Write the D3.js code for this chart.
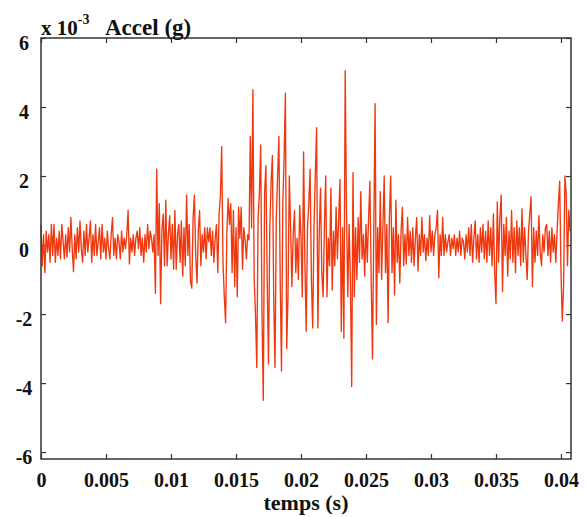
<!DOCTYPE html>
<html>
<head>
<meta charset="utf-8">
<script src="https://cdn.jsdelivr.net/npm/d3@7"></script>
<style>
  body { margin: 0; background: #fff; }
  svg text { font-family: "Liberation Serif", "Times New Roman", serif; font-weight: bold; fill: #111; }
</style>
</head>
<body>
<div id="chart"></div>
<script>
// acceleration samples (x 10^-3 g), one every 0.0001 s
var accel = [
  0.6, -0.6, 0.3, -0.8, 0.4, -0.2, 0.3, -0.5, 0.6, -0.3,
  0.6, -0.5, 0.2, -0.3, 0.4, -0.4, 0.6, 0.1, -0.4, 0.3,
  -0.35, 0.5, -0.2, 0.8, -0.1, -0.77, 0.3, -0.4, 0.5, -0.2,
  0.7, -0.1, -0.5, 0.4, -0.3, 0.6, -0.2, 0.2, 0.7, -0.5,
  0.3, -0.3, 0.6, -0.3, 0.1, 0.5, -0.4, 0.6, -0.2, 0.2,
  -0.4, 0.4, -0.1, -0.4, 0.3, 0.8, -0.3, 0.2, -0.4, 0.3,
  0.1, -0.4, 0.4, -0.2, 0.2, -0.1, 0.3, 1.0, -0.55, 0.2,
  -0.2, 0.3, -0.3, 0.2, 0.4, -0.1, 0.5, -0.3, 0.2, -0.5,
  0.3, -0.2, 0.6, -0.1, 0.4, 0.2, -0.2, 0.3, -1.4, 2.2,
  -0.3, 1.2, -1.7, 0.4, 0.9, -0.6, 1.3, -0.6, 0.3, 0.85,
  -0.4, 0.6, -0.7, 1.0, -0.7, 0.3, 0.6, -0.5, 0.7, -0.9,
  0.5, -0.6, 1.45, -0.3, 0.6, -1.05, -1.25, 0.8, 1.45, -0.3,
  -1.1, 0.4, 1.0, -0.6, 0.3, -0.2, 0.5, -0.4, 0.5, 0.1,
  0.5, -0.3, 0.4, -0.5, 0.2, 0.6, -0.8, 0.9, 1.4, 2.85,
  -0.5, -1.5, -2.25, 0.4, 1.35, 0.6, 1.2, -0.8, 1.0, -1.2,
  0.5, -1.5, 1.1, 0.2, 1.1, -0.7, 0.5, 0.15, -0.4, 0.3,
  0.15, 3.15, 0.5, 4.5, -1.0, -2.0, -3.55, 0.8, 1.5, 2.9,
  -2.0, -4.5, 1.5, 2.3, -1.0, -3.45, 0.5, 1.8, 2.6, -1.5,
  -3.55, 0.8, 2.0, 3.15, -1.0, -3.65, 1.2, 2.5, 4.4, -3.0,
  -1.5, 2.0, 0.5, -1.2, 0.3, 1.0, -0.8, 0.2, -1.0, 1.15,
  0.2, -1.5, 2.7, -0.5, -2.5, 0.5, 1.2, 2.2, -1.0, -2.4,
  0.5, 2.0, 3.4, -2.4, 0.3, 1.65, -0.8, -1.5, 0.5, 2.0,
  -1.5, 0.2, -0.6, 1.65, -1.3, 0.4, -0.6, 1.1, -0.4, 0.8,
  1.9, -2.5, 0.5, -2.7, 5.05, 1.0, -1.5, 0.6, -1.0, -4.1,
  2.1, -1.5, 0.5, -1.0, 0.8, -0.5, 1.55, -0.4, 0.3, -0.9,
  0.6, -0.5, 0.8, 1.85, -1.0, -3.3, 0.4, 4.1, -2.3, 0.5,
  -0.8, 1.55, -1.0, 0.5, 2.0, -0.8, 0.6, -2.25, 0.8, 2.0,
  -0.8, 0.5, -1.45, 1.3, -0.5, 0.3, -1.1, 0.4, 1.1, -0.6,
  0.3, -0.55, 0.8, -0.3, 0.4, -0.5, 0.5, -0.6, 0.2, 0.8,
  -0.75, 0.3, -0.3, 0.8, -0.2, 0.3, -0.45, 0.2, -0.3, 0.85,
  -0.2, 0.4, -0.3, 0.3, 0.5, 1.0, -0.95, 0.3, -0.3, 0.8,
  -0.3, 0.3, -0.2, 0.1, 0.3, -0.3, 0.2, -0.1, 0.3, -0.3,
  0.2, -0.2, 0.4, -0.3, 0.2, 0.1, -0.4, 0.3, -0.2, 0.5,
  -0.3, 0.6, -0.5, 0.2, 0.7, -0.4, 0.3, -0.5, 0.5, -0.2,
  0.6, -0.4, 0.4, -0.5, 0.7, -0.3, 0.5, -0.6, 0.9, -0.8,
  -1.7, 1.25, -0.5, 0.8, 1.45, -1.35, 0.6, -0.3, 0.8, -0.9,
  0.4, -0.4, 1.0, -0.5, 0.5, -0.8, 0.7, -0.3, 0.5, -0.6,
  1.05, -0.5, 0.5, -0.3, -1.0, 0.4, 0.9, 1.4, -1.2, 0.5,
  -0.5, 0.4, -0.3, 0.85, -0.2, -0.6, 0.3, -0.2, 0.5, 0.6,
  -0.3, 0.4, -0.5, 0.5, -0.2, 0.3, -0.5, 0.4, 1.2, 1.85,
  -0.8, -2.2, -1.2, 2.0, 1.5, -0.6, 1.0, 0.4
];
var sampleStep = 0.0001;

var xTicks = [0, 0.005, 0.01, 0.015, 0.02, 0.025, 0.03, 0.035, 0.04];
var xTickLabels = ["0", "0.005", "0.01", "0.015", "0.02", "0.025", "0.03", "0.035", "0.04"];
var yTicks = [-6, -4, -2, 0, 2, 4, 6];
var yTickLabels = ["-6", "-4", "-2", "0", "2", "4", "6"];

// set the dimensions and margins of the graph
var margin = {top: 38, right: 15, bottom: 58, left: 41},
  width = 586 - margin.left - margin.right,
  height = 517 - margin.top - margin.bottom;

var svg = d3.select("#chart")
  .append("svg")
  .attr("width", 586)
  .attr("height", 517)
  .append("g")
  .attr("transform", "translate(" + margin.left + "," + margin.top + ")");

// scales
var xScale = d3.scaleLinear()
  .domain([0, 0.04077])
  .range([0, width]);
var yScale = d3.scaleLinear()
  .domain([-6.2, 6])
  .range([height, 0]);

// bottom axis, ticks pointing inward
var xAxis = svg.append("g")
  .attr("transform", "translate(0," + height + ")")
  .call(d3.axisBottom(xScale)
    .tickValues(xTicks)
    .tickFormat(function(d, i) { return xTickLabels[i]; })
    .tickSize(-5)
    .tickPadding(14));
xAxis.selectAll("text").style("font-size", "20px");

// top axis, ticks only
svg.append("g")
  .call(d3.axisTop(xScale).tickValues(xTicks).tickSize(-5).tickFormat(""));

// left axis
var yAxis = svg.append("g")
  .call(d3.axisLeft(yScale)
    .tickValues(yTicks)
    .tickFormat(function(d, i) { return yTickLabels[i]; })
    .tickSize(-5));
yAxis.selectAll("text")
  .attr("x", -17)
  .attr("dy", "0.57em")
  .attr("text-anchor", "middle")
  .style("font-size", "20px");

// right axis, ticks only
svg.append("g")
  .attr("transform", "translate(" + width + ",0)")
  .call(d3.axisRight(yScale).tickValues(yTicks).tickSize(-5).tickFormat(""));

svg.selectAll(".domain").remove();
svg.selectAll(".tick line").attr("stroke", "#333").attr("stroke-width", 1.2);

// the signal
var line = d3.line()
  .x(function(d, i) { return xScale(i * sampleStep); })
  .y(function(d) { return yScale(d); });

svg.append("path")
  .datum(accel)
  .attr("d", line)
  .attr("fill", "none")
  .attr("stroke", "#f0380f")
  .attr("stroke-width", 1.35)
  .attr("stroke-linejoin", "round");

// frame
svg.append("rect")
  .attr("width", width)
  .attr("height", height)
  .attr("fill", "none")
  .attr("stroke", "#333")
  .attr("stroke-width", 1.5);

// x axis label
svg.append("text")
  .attr("x", width / 2)
  .attr("y", height + 51)
  .attr("text-anchor", "middle")
  .style("font-size", "22px")
  .text("temps (s)");

// y label on top
var ylab = svg.append("text")
  .attr("x", 0)
  .attr("y", -3)
  .style("font-size", "21px");
ylab.append("tspan").text("x 10");
ylab.append("tspan")
  .attr("dy", -11)
  .style("font-size", "14px")
  .text("-3");
ylab.append("tspan")
  .attr("x", 64)
  .attr("dy", 11)
  .style("font-size", "23px")
  .text("Accel (g)");
</script>
</body>
</html>
